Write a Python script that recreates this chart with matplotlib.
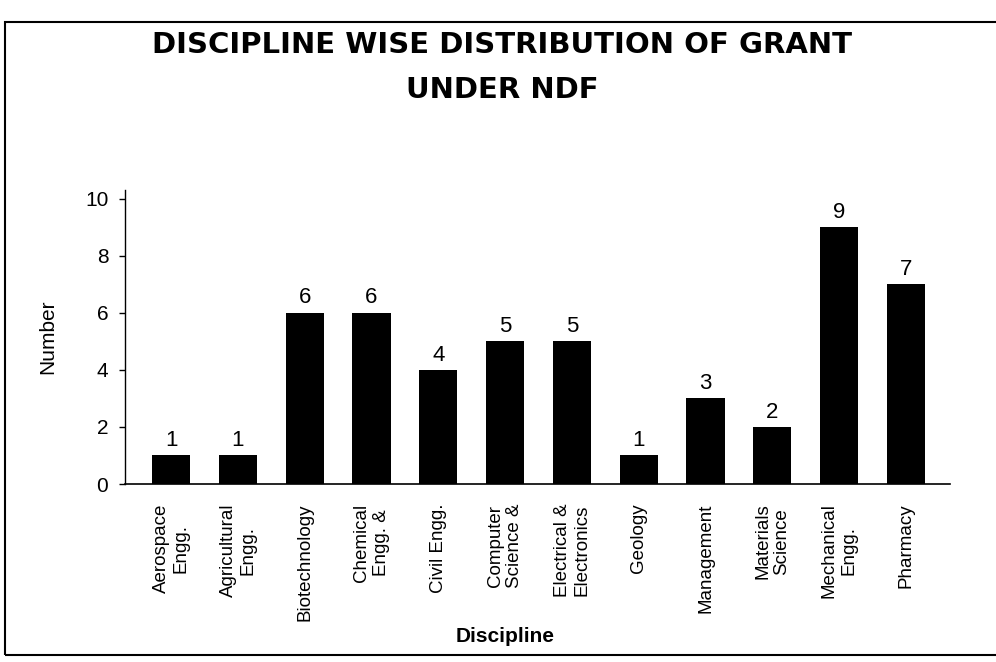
import matplotlib
matplotlib.use("Agg")
import matplotlib.pyplot as plt
from matplotlib.patches import Rectangle

categories = ["Aerospace\nEngg.", "Agricultural\nEngg.", "Biotechnology", "Chemical\nEngg. &",
              "Civil Engg.", "Computer\nScience &", "Electrical &\nElectronics", "Geology",
              "Management", "Materials\nScience", "Mechanical\nEngg.", "Pharmacy"]
values = [1, 1, 6, 6, 4, 5, 5, 1, 3, 2, 9, 7]
yticks = [0, 2, 4, 6, 8, 10]

plt.rcParams['font.family'] = ['Liberation Sans', 'DejaVu Sans']

fig = plt.figure(figsize=(9.96, 6.62), dpi=100)
ax = fig.add_axes([125/996, 1-484/662, (950-125)/996, (484-190)/662])

x = list(range(len(categories)))
bars = ax.bar(x, values, width=0.57, color='black')
for xi, v in zip(x, values):
    ax.text(xi, v + 0.15, str(v), ha='center', va='bottom', fontsize=16)

ax.set_xlim(-0.69, 11.66)
ax.set_ylim(0, 10.3)
ax.set_yticks(yticks)
ax.set_yticklabels([str(t) for t in yticks], fontsize=15)
ax.tick_params(axis='y', direction='out', length=4, width=1, pad=8)
ax.set_xticks(x)
ax.set_xticklabels(categories, rotation=90, fontsize=13.5, multialignment='center', va='top')
ax.tick_params(axis='x', length=0, pad=14)
for s in ['top', 'right']:
    ax.spines[s].set_visible(False)
ax.spines['left'].set_linewidth(1)
ax.spines['bottom'].set_linewidth(1.2)

ax.set_ylabel("Number", fontsize=15, labelpad=20)
fig.text(505/996, 1-636/662, "Discipline", ha='center', va='center', fontsize=15, fontweight='bold')

fig.text(502/996, 1-45/662, "DISCIPLINE WISE DISTRIBUTION OF GRANT", ha='center', va='center',
         fontsize=21, fontweight='heavy', family=['DejaVu Sans'])
fig.text(502/996, 1-90/662, "UNDER NDF", ha='center', va='center',
         fontsize=21, fontweight='heavy', family=['DejaVu Sans'])

fig.patches.append(Rectangle((5/996, 1-655/662), 1.2, (655-22)/662, transform=fig.transFigure,
                             fill=False, edgecolor='black', linewidth=1.5, clip_on=False))

fig.savefig("out.png", dpi=100)
